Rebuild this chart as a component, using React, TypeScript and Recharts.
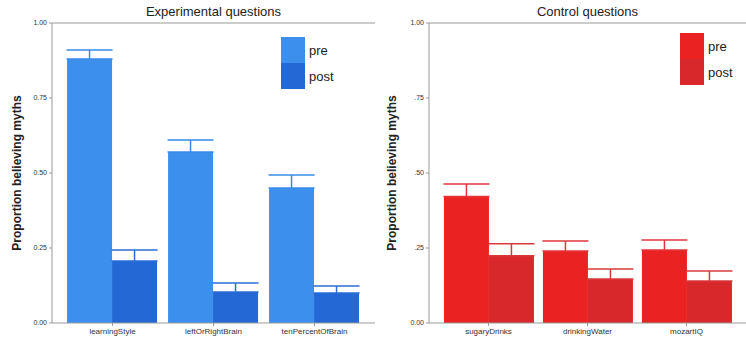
import React from 'react';
import { BarChart, Bar, XAxis, YAxis, ErrorBar, ReferenceLine, Label } from 'recharts';

const expCategories = ['learningStyle', 'leftOrRightBrain', 'tenPercentOfBrain'];
const expPre = [0.88, 0.57, 0.45];
const expPreErr = [0.03, 0.04, 0.043];
const expPost = [0.207, 0.103, 0.1];
const expPostErr = [0.036, 0.03, 0.023];

const ctlCategories = ['sugaryDrinks', 'drinkingWater', 'mozartIQ'];
const ctlPre = [0.422, 0.24, 0.243];
const ctlPreErr = [0.041, 0.033, 0.034];
const ctlPost = [0.224, 0.147, 0.14];
const ctlPostErr = [0.04, 0.033, 0.033];

const yTicks = [0, 0.25, 0.5, 0.75, 1];
const expTickLabels = ['0.00', '0.25', '0.50', '0.75', '1.00'];
const ctlTickLabels = ['0.00', '.25', '.50', '.75', '1.00'];

const AXIS = '#9a9a9a';
const FONT = '"Liberation Sans", Arial, sans-serif';

const buildRows = (cats: string[], pre: number[], preErr: number[], post: number[], postErr: number[]) =>
  cats.map((name, i) => ({
    name,
    pre: pre[i],
    preErr: [0, preErr[i]],
    post: post[i],
    postErr: [0, postErr[i]],
  }));

interface PanelProps {
  title: string;
  rows: ReturnType<typeof buildRows>;
  tickLabels: string[];
  preColor: string;
  postColor: string;
  preErrColor: string;
  postErrColor: string;
  left: number;
  width: number;
  marginLeft: number;
  marginRight: number;
  labelX: number;
  legend: { x: number; y: number };
}

const YLabel = ({ x }: { x: number }) => (
  <text
    x={x}
    y={173}
    transform={`rotate(-90, ${x}, 173)`}
    textAnchor="middle"
    dominantBaseline="central"
    fontFamily={FONT}
    fontSize={12}
    fontWeight="bold"
    fill="#222"
  >
    Proportion believing myths
  </text>
);

const Panel: React.FC<PanelProps> = (p) => {
  const plotLeft = p.marginLeft + 40;
  const plotRight = p.width - p.marginRight;
  return (
    <div style={{ position: 'absolute', left: p.left, top: 0, width: p.width, height: 339 }}>
      <BarChart
        width={p.width}
        height={339}
        data={p.rows}
        margin={{ top: 23, right: p.marginRight, left: p.marginLeft, bottom: 0 }}
        barCategoryGap="5%"
        barGap={0}
      >
        <XAxis
          dataKey="name"
          height={16}
          padding={{ left: 10, right: 10 }}
          stroke={AXIS}
          tickSize={3}
          tick={{ fontSize: 8, fill: '#333', fontFamily: FONT }}
          interval={0}
        />
        <YAxis
          width={40}
          domain={[0, 1]}
          ticks={yTicks}
          tickSize={3}
          stroke={AXIS}
          tick={{ fontSize: 7, fill: '#333', fontFamily: FONT }}
          tickFormatter={(v: number) => p.tickLabels[yTicks.indexOf(v)]}
        >
          <Label content={() => <YLabel x={p.labelX} />} />
        </YAxis>
        <ReferenceLine y={1} stroke={AXIS} strokeWidth={1} />
        <Bar dataKey="pre" fill={p.preColor} isAnimationActive={false}>
          <ErrorBar dataKey="preErr" width={23} stroke={p.preErrColor} strokeWidth={1.5} direction="y" />
        </Bar>
        <Bar dataKey="post" fill={p.postColor} isAnimationActive={false}>
          <ErrorBar dataKey="postErr" width={23} stroke={p.postErrColor} strokeWidth={1.5} direction="y" />
        </Bar>
      </BarChart>
      <div
        style={{
          position: 'absolute',
          top: 4,
          left: plotLeft,
          width: plotRight - plotLeft,
          textAlign: 'center',
          fontFamily: FONT,
          fontSize: 13,
          lineHeight: '15px',
          color: '#222',
          zIndex: 2,
        }}
      >
        {p.title}
      </div>
      <div
        style={{
          position: 'absolute',
          left: p.legend.x,
          top: p.legend.y,
          fontFamily: FONT,
          fontSize: 13,
          color: '#222',
          zIndex: 2,
        }}
      >
        {[
          ['pre', p.preColor],
          ['post', p.postColor],
        ].map(([label, color]) => (
          <div key={label} style={{ display: 'flex', alignItems: 'center', height: 26 }}>
            <div style={{ width: 24, height: 26, background: color, marginRight: 4 }} />
            <span>{label}</span>
          </div>
        ))}
      </div>
    </div>
  );
};

export default function App() {
  const expRows = buildRows(expCategories, expPre, expPreErr, expPost, expPostErr);
  const ctlRows = buildRows(ctlCategories, ctlPre, ctlPreErr, ctlPost, ctlPostErr);
  return (
    <div style={{ position: 'absolute', left: 0, top: 0, width: 746, height: 339, background: '#fff' }}>
      <Panel
        title="Experimental questions"
        rows={expRows}
        tickLabels={expTickLabels}
        preColor="#3d8fee"
        postColor="#2468d6"
        preErrColor="#3a8ae6"
        postErrColor="#2a6cd6"
        left={0}
        width={376}
        marginLeft={12}
        marginRight={1}
        labelX={17}
        legend={{ x: 281, y: 37 }}
      />
      <Panel
        title="Control questions"
        rows={ctlRows}
        tickLabels={ctlTickLabels}
        preColor="#ea2322"
        postColor="#d8282b"
        preErrColor="#e2363a"
        postErrColor="#d83a3c"
        left={376}
        width={370}
        marginLeft={13}
        marginRight={0}
        labelX={16}
        legend={{ x: 304, y: 33 }}
      />
    </div>
  );
}
